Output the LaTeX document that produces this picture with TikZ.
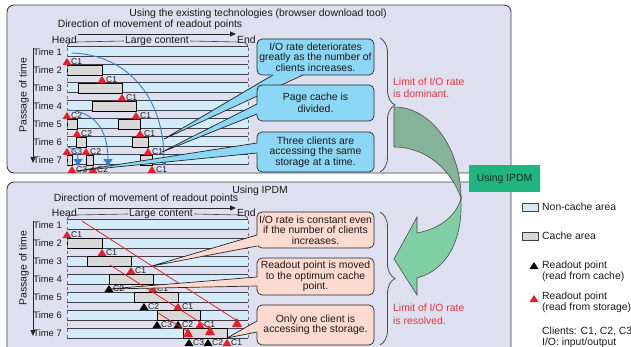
\documentclass[tikz,border=0pt]{standalone}
\usepackage{fontspec}
\setmainfont{Liberation Sans}
\usetikzlibrary{arrows.meta,decorations.pathreplacing}

\definecolor{panel}{RGB}{223,224,239}
\definecolor{barblue}{RGB}{212,236,250}
\definecolor{cachegray}{RGB}{216,216,216}
\definecolor{callblue}{RGB}{140,215,245}
\definecolor{callpink}{RGB}{252,218,208}
\definecolor{markred}{RGB}{232,30,40}
\definecolor{textred}{RGB}{232,50,60}
\definecolor{arcblue}{RGB}{58,122,200}
\definecolor{ipdmgreen}{RGB}{32,180,128}
\definecolor{turngray}{RGB}{134,180,154}
\definecolor{turngreen}{RGB}{128,206,164}

\tikzset{
    txt/.style={inner sep=0pt, text=black!90, font=\fontsize{10.4}{11}\selectfont},
    timelbl/.style={txt, anchor=east, font=\fontsize{9.4}{10}\selectfont},
    clbl/.style={inner sep=0pt, anchor=west, text=black!90, font=\fontsize{8.5}{9}\selectfont},
    callout/.style={txt, draw=black!85, line width=0.7pt, rounded corners=5pt,
        minimum width=117pt, align=center, font=\fontsize{10.4}{10.5}\selectfont},
    panelline/.style={draw=black!75, line width=0.9pt, rounded corners=7pt},
    barline/.style={black!75, line width=1pt},
    cachebox/.style={fill=cachegray, draw=black, line width=0.6pt},
    dirarrow/.style={black!85, line width=0.8pt, -{Triangle[length=6pt,width=5pt]}},
    arcarrow/.style={arcblue, line width=0.9pt, -{Triangle[length=7pt,width=9pt]}},
    redline/.style={markred, line width=0.8pt},
    tailedge/.style={black!85, line width=0.7pt},
    bracestyle/.style={decorate, decoration={brace, amplitude=15pt}, black!70, line width=0.8pt},
    turnline/.style={draw=black!70, line width=0.6pt},
}

% readout point: colour, x, bar centre, client
\newcommand{\readpt}[4]{%
    \fill[#1] (#2-4.5,#3+13) -- (#2,#3+6) -- (#2+4.5,#3+13) -- cycle;
    \node[clbl] (#4-#2-#3) at (#2+4,#3+10) {#4};
}
% larger red point at the end of a red line
\newcommand{\tailpt}[2]{%
    \fill[markred] (#1-5,#2+9) -- (#1,#2) -- (#1+5,#2+9) -- cycle;
}

\begin{document}
\begin{tikzpicture}[x=1pt,y=-1pt]
\useasboundingbox (0,0) rectangle (631,347);

% panels
\fill[panel, rounded corners=7pt] (7,5) rectangle (511,173);
\draw[panelline] (7,5) rectangle (511,173);
\fill[panel, rounded corners=7pt] (7,360) -- (7,182) -- (511,182) -- (511,360) -- cycle;
\draw[panelline] (7,360) -- (7,182) -- (511,182) -- (511,360);

%%% existing technologies
\node[txt] (toptitle) at (258,14) {Using the existing technologies (browser download tool)};
\node[txt] (topdir) at (150,25) {Direction of movement of readout points};
\coordinate (tda) at (78,34);
\coordinate (tdb) at (236,34);
\draw[dirarrow] (tda) -- (tdb);
\node[txt, anchor=east] (thead) at (77,40) {Head};
\node[txt, anchor=west] (tend) at (237,40) {End};
\node[txt, fill=panel, inner xsep=1pt] (tlarge) at (157,41) {Large content};
\draw[black!75, line width=0.6pt] (67,48) .. controls (67,43) and (70,42) .. (76,42) -- (tlarge.west)
    (tlarge.east) -- (239,42) .. controls (245,42) and (248,43) .. (248,48);
\coordinate (tpa) at (33,48);
\coordinate (tpb) at (33,163);
\draw[dirarrow] (tpa) -- (tpb);
\node[txt, rotate=90] (tpass) at (24,95) {Passage of time};

\foreach \i/\yc in {1/52,2/70,3/88,4/106,5/124,6/142,7/160}{
    \node[timelbl] (tt\i) at (62,\yc) {Time \i};
    \fill[barblue] (67,\yc-5) rectangle (248,\yc+5);
    \draw[barline] (67,\yc-5) -- (248,\yc-5) (67,\yc+5) -- (248,\yc+5);
}
\foreach \a/\b/\yc in {67/102/70, 78/122/88, 92/136/106, 67/77/124, 118/140/124,
    76/86/142, 132/148/142, 67/72/160, 86/93/160, 140/152/160}
    \draw[cachebox] (\a,\yc-5) rectangle (\b,\yc+5);
\draw[black!55, dashed, line width=0.6pt] (67,48) -- (67,166) (248,48) -- (248,166);
\foreach \x/\yc/\c in {67/52/C1, 102/70/C1, 122/88/C1, 67/106/C2, 136/106/C1, 77/124/C2,
    140/124/C1, 67/142/C3, 86/142/C2, 148/142/C1, 72/160/C3, 93/160/C2, 152/160/C1}
    {\readpt{markred}{\x}{\yc}{\c}}

\draw[arcarrow] (72,53) .. controls (130,55) and (164,100) .. (164,166);
\draw[arcarrow] (68,110) .. controls (95,112) and (108,130) .. (108,166);
\draw[arcarrow] (68,147) .. controls (75,148) and (78,155) .. (78,166);

\node[callout, fill=callblue, minimum height=36pt] (tcall1) at (315.5,57)
    {I/O rate deteriorates\\greatly as the number of\\clients increases.};
\coordinate (tip1) at (164,139);
\fill[callblue] (273,74) -- (tip1) -- (303,74) -- cycle;
\draw[tailedge] (273,75) -- (tip1) -- (303,75);
\node[callout, fill=callblue, minimum height=36pt] (tcall2) at (315.5,103)
    {Page cache is\\[2pt]divided.};
\coordinate (tip2) at (162,152);
\fill[callblue] (258,104) -- (tip2) -- (258,114) -- cycle;
\draw[tailedge] (257,104) -- (tip2) -- (257,114);
\node[callout, fill=callblue, minimum height=40pt] (tcall3) at (315.5,152)
    {Three clients are\\accessing the same\\storage at a time.};
\coordinate (tip3) at (76,171);
\fill[callblue] (258,143) -- (tip3) -- (258,153) -- cycle;
\draw[tailedge] (257,143) -- (tip3) -- (257,153);

\draw[bracestyle] (380,38) -- (380,172);
\node[txt, text=textred, align=left, anchor=west, font=\fontsize{10.4}{11.7}\selectfont]
    (tlimit) at (393,87.5) {Limit of I/O rate\\is dominant.};

%%% IPDM
\node[txt] (btitle) at (260,191) {Using IPDM};
\node[txt] (bdir) at (146,199) {Direction of movement of readout points};
\coordinate (bda) at (78,208);
\coordinate (bdb) at (236,208);
\draw[dirarrow] (bda) -- (bdb);
\node[txt, anchor=east] (bhead) at (77,213) {Head};
\node[txt, anchor=west] (bend) at (237,213) {End};
\node[txt, fill=panel, inner xsep=1pt] (blarge) at (161,214) {Large content};
\draw[black!75, line width=0.6pt] (67,221) .. controls (67,216) and (70,215) .. (76,215) -- (blarge.west)
    (blarge.east) -- (239,215) .. controls (245,215) and (248,216) .. (248,221);
\coordinate (bpa) at (33,221);
\coordinate (bpb) at (33,336);
\draw[dirarrow] (bpa) -- (bpb);
\node[txt, rotate=90] (bpass) at (24,268) {Passage of time};

\foreach \i/\yc in {1/225,2/243,3/261,4/279,5/297,6/315,7/333}{
    \node[timelbl] (bt\i) at (62,\yc) {Time \i};
    \fill[barblue] (67,\yc-5) rectangle (248,\yc+5);
    \draw[barline] (67,\yc-5) -- (248,\yc-5) (67,\yc+5) -- (248,\yc+5);
}
\foreach \a/\b/\yc in {67/102/243, 87/131/261, 109/153/279, 134/178/297, 157/200/315, 183/227/333}
    \draw[cachebox] (\a,\yc-5) rectangle (\b,\yc+5);
\draw[black!55, dashed, line width=0.6pt] (67,221) -- (67,339) (248,221) -- (248,339);
\foreach \x/\yc/\c in {67/225/C1, 102/243/C1, 131/261/C1, 153/279/C1, 178/297/C1, 200/315/C1, 227/333/C1}
    {\readpt{markred}{\x}{\yc}{\c}}
\foreach \x/\yc/\c in {109/279/C2, 144/297/C2, 157/315/C3, 178/315/C2, 189/333/C3, 208/333/C2}
    {\readpt{black}{\x}{\yc}{\c}}

\coordinate (ra1) at (82,221);
\coordinate (ra2) at (236,320);
\coordinate (rb1) at (110,265);
\coordinate (rb2) at (209,328);
\coordinate (rc1) at (158,313);
\coordinate (rc2) at (187,331);
\draw[redline] (ra1) -- (ra2) (rb1) -- (rb2) (rc1) -- (rc2);
\tailpt{237}{318}
\tailpt{210}{326}
\tailpt{188}{328}

\node[callout, fill=callpink, minimum height=36pt] (bcall1) at (315.5,230)
    {I/O rate is constant even\\if the number of clients\\increases.};
\coordinate (btip1) at (152,266);
\fill[callpink] (258,235) -- (btip1) -- (258,246) -- cycle;
\draw[tailedge] (257,235) -- (btip1) -- (257,246);
\node[callout, fill=callpink, minimum height=37pt] (bcall2) at (315.5,276.5)
    {Readout point is moved\\to the optimum cache\\point.};
\coordinate (btip2) at (108,289);
\fill[callpink] (258,277) -- (btip2) -- (258,286) -- cycle;
\draw[tailedge] (257,277) -- (btip2) -- (257,286);
\node[callout, fill=callpink, minimum height=40pt] (bcall3) at (315.5,325)
    {Only one client is\\accessing the storage.};
\coordinate (btip3) at (227,338);
\fill[callpink] (258,321) -- (btip3) -- (258,332) -- cycle;
\draw[tailedge] (257,321) -- (btip3) -- (257,332);

\draw[bracestyle] (380,212) -- (380,345);
\node[txt, text=textred, align=left, anchor=west, font=\fontsize{10.4}{12.7}\selectfont]
    (blimit) at (393,314.5) {Limit of I/O rate\\is resolved.};

%%% turning arrow
\fill[turngray] (394,107) .. controls (432,107) and (461,150) .. (461,198)
    .. controls (452,172) and (428,147) .. (394,147) -- cycle;
\draw[turnline] (394,107) .. controls (432,107) and (461,150) .. (461,198)
    .. controls (452,172) and (428,147) .. (394,147) -- cycle;
\fill[turngreen] (461,198) .. controls (463,240) and (447,270) .. (417,278) -- (417,295) -- (394,259)
    -- (417,217) -- (417,233) .. controls (440,229) and (457,215) .. (461,198) -- cycle;
\draw[turnline] (461,198) .. controls (463,240) and (447,270) .. (417,278) -- (417,295) -- (394,259)
    -- (417,217) -- (417,233) .. controls (440,229) and (457,215) .. (461,198) -- cycle;
\node[txt, fill=ipdmgreen, minimum width=71pt, minimum height=27pt, text=black!85] (ipdm) at (504.5,178.5) {Using IPDM};

%%% legend
\draw[fill=barblue, draw=black!75, line width=0.7pt] (522,203) rectangle (538,211);
\node[txt, anchor=west] (lnon) at (542,207) {Non-cache area};
\draw[cachebox, draw=black!75] (522,232) rectangle (538,240);
\node[txt, anchor=west] (lcache) at (542,236) {Cache area};
\fill[black] (529.5,269) -- (534,262) -- (538.5,269) -- cycle;
\node[txt, anchor=west, align=left] (lblack) at (542,271.5) {Readout point\\(read from cache)};
\fill[markred] (529.5,302) -- (534,295) -- (538.5,302) -- cycle;
\node[txt, anchor=west, align=left] (lred) at (542,302.5) {Readout point\\(read from storage)};
\node[txt, anchor=west, align=left] (lclient) at (542,337) {Clients: C1, C2, C3\\I/O: input/output};
\end{tikzpicture}
\end{document}
